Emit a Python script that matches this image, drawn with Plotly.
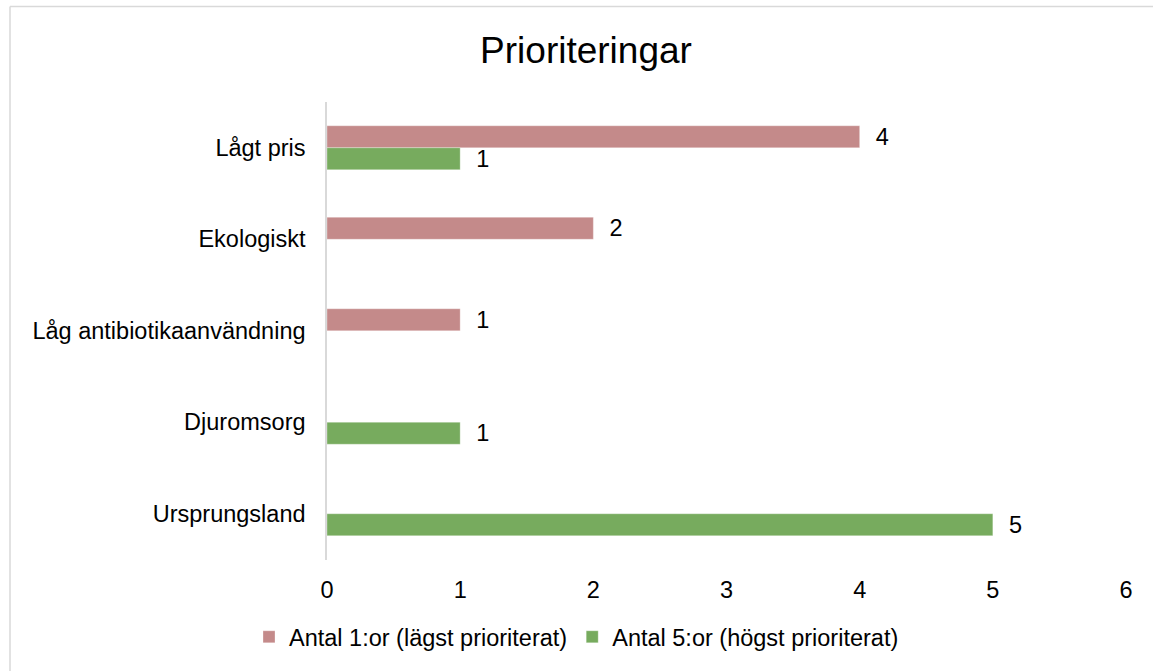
import plotly.graph_objects as go

categories = ["Lågt pris", "Ekologiskt", "Låg antibiotikaanvändning", "Djuromsorg", "Ursprungsland"]
series_names = ["Antal 1:or (lägst prioriterat)", "Antal 5:or (högst prioriterat)"]
lowest_counts = [4, 2, 1, None, None]
highest_counts = [1, None, None, 1, 5]
x_ticks = [0, 1, 2, 3, 4, 5, 6]

colors = ["#C48A8A", "#77AB5E"]
FONT = "Liberation Sans, Arial, sans-serif"
FS = 23.5

fig = go.Figure()
for name, vals, col in zip(series_names, [lowest_counts, highest_counts], colors):
    fig.add_trace(go.Bar(
        y=categories, x=vals, name=name, orientation="h",
        marker=dict(color=col, line=dict(color="rgba(255,255,255,0.6)", width=0.5)),
        texttemplate="  %{x}", textposition="outside", cliponaxis=False,
        constraintext="none",
        textfont=dict(size=FS, color="#000000", family=FONT),
    ))

L, R, T, B = 327, 27, 102, 109
W, H = 1153, 671
pw, ph = W - L - R, H - T - B

def px2paper_x(px):
    return (px - L) / pw

def px2paper_y(py):
    return (H - B - py) / ph

border = dict(color="#D9D9D9", width=1.5)
fig.update_layout(
    width=W, height=H,
    margin=dict(l=L, r=R, t=T, b=B),
    paper_bgcolor="white", plot_bgcolor="white",
    barmode="group", bargap=0.52, bargroupgap=0,
    font=dict(family=FONT, size=FS, color="#000000"),
    title=dict(text="Prioriteringar", x=586 / W, xref="container", xanchor="center",
               y=1 - 50 / H, yref="container", yanchor="middle",
               font=dict(size=37, family=FONT, color="#000000")),
    xaxis=dict(range=[0, 6], tickvals=x_ticks, showgrid=False, zeroline=False,
               showline=False, ticks="", ticklabelstandoff=14,
               tickfont=dict(size=FS, family=FONT, color="#000000")),
    yaxis=dict(categoryorder="array", categoryarray=categories, autorange="reversed",
               showgrid=False, zeroline=False, showline=True, linecolor="#D9D9D9",
               linewidth=1.5, ticks="", ticklabelstandoff=15,
               tickfont=dict(size=FS, family=FONT, color="#000000")),
    legend=dict(orientation="h", x=0.5, xref="container", xanchor="center",
                y=1 - 637 / H, yref="container", yanchor="middle",
                font=dict(size=FS, family=FONT, color="#000000"),
                itemclick=False, tracegroupgap=0, itemwidth=30),
    showlegend=True,
    shapes=[
        dict(type="line", xref="paper", yref="paper",
             x0=px2paper_x(10), x1=px2paper_x(10),
             y0=px2paper_y(700), y1=px2paper_y(6), line=border, layer="above"),
        dict(type="line", xref="paper", yref="paper",
             x0=px2paper_x(10), x1=px2paper_x(1200),
             y0=px2paper_y(6), y1=px2paper_y(6), line=border, layer="above"),
    ],
)

fig.write_html("out.html", config={"displayModeBar": False},
               post_script="document.body.style.margin='0px';")
